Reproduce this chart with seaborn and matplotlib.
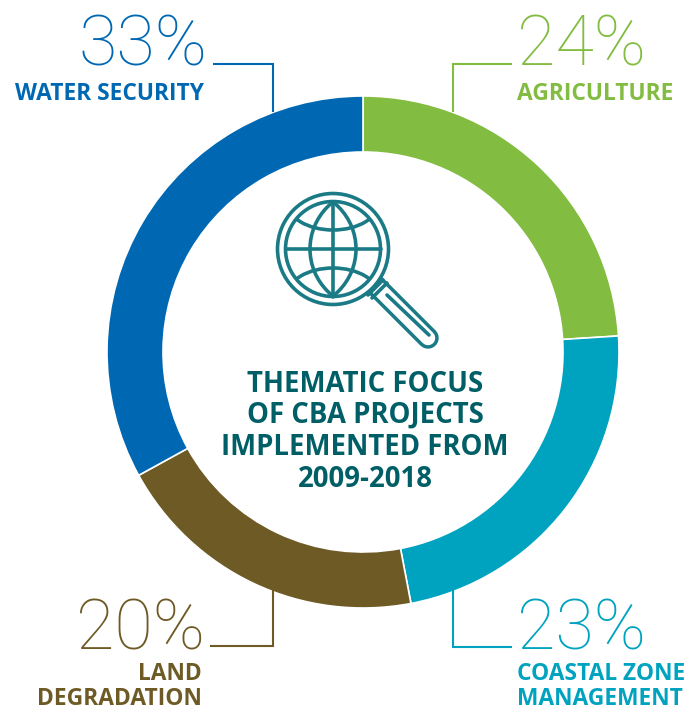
import numpy as np
import matplotlib
matplotlib.use("Agg")
import matplotlib.pyplot as plt
from matplotlib.patches import Circle, Ellipse
import seaborn as sns

# Share of projects per theme, clockwise from twelve o'clock
themes = ["AGRICULTURE", "COASTAL ZONE\nMANAGEMENT", "LAND\nDEGRADATION", "WATER SECURITY"]
shares = [24, 23, 20, 33]
colours = ["#82bc41", "#00a3bf", "#6e5a25", "#0068b3"]
title_lines = ["THEMATIC FOCUS", "OF CBA PROJECTS", "IMPLEMENTED FROM", "2009-2018"]

W, H = 689, 712
sns.set_theme(style="white")
fig = plt.figure(figsize=(W / 100, H / 100), dpi=100, facecolor="white")

# Ring
cx, cy, r_out, r_in = 363, 352, 256, 200
pie_ax = fig.add_axes([(cx - r_out) / W, (H - cy - r_out) / H, 2 * r_out / W, 2 * r_out / H])
pie_ax.pie(shares, colors=sns.color_palette(colours), startangle=90, counterclock=False,
           radius=1, wedgeprops=dict(width=1 - r_in / r_out, edgecolor="white", linewidth=1.2))
pie_ax.set_xlim(-1, 1)
pie_ax.set_ylim(-1, 1)

# Overlay in pixel units for labels, leaders and the icon
ax = fig.add_axes([0, 0, 1, 1], facecolor="none")
ax.set_xlim(0, W)
ax.set_ylim(H, 0)
ax.axis("off")

PCT_FONT = dict(family="Roboto", weight="light", fontsize=50.5)
LBL_FONT = dict(family="Open Sans", weight="bold", fontsize=16.4)

def callout(i, x_pct, x_lbl, ha, y_pct, y_lines, leader):
    ax.text(x_pct, y_pct, f"{shares[i]}%", color=colours[i], ha=ha, va="baseline", **PCT_FONT)
    for line, y in zip(themes[i].split("\n"), y_lines):
        ax.text(x_lbl, y, line, color=colours[i], ha=ha, va="baseline", **LBL_FONT)
    xs, ys = zip(*leader)
    ax.plot(xs, ys, color=colours[i], lw=1.5, solid_joinstyle="miter", solid_capstyle="butt")

callout(3, 207, 204, "right", 66, [100], [(213, 64), (273, 64), (273, 112)])
callout(0, 517, 517, "left", 66, [100], [(512, 64), (453, 64), (453, 112)])
callout(1, 517, 517, "left", 649, [680, 705], [(512, 647), (453, 647), (453, 590)])
callout(2, 205, 202, "right", 649, [680, 705], [(210, 646), (273, 646), (273, 590)])

# Centre heading
for line, y in zip(title_lines, [392, 423, 455, 487]):
    ax.text(365, y, line, color="#005f66", ha="center", va="baseline",
            family="Open Sans", weight="bold", fontsize=19.8)

# Magnifying glass over a globe
ICON = "#1a7a85"
gx, gy = 333, 249
R_LENS, R_GLOBE = 55.5, 47.5
px = 0.72
sw = 3.6 * px
ax.plot([375, 428], [285, 338], color=ICON, lw=21.5 * px, solid_capstyle="round", zorder=3)
ax.plot([375, 428], [285, 338], color="white", lw=14.5 * px, solid_capstyle="round", zorder=3)
ax.plot([387, 429], [295, 335], color=ICON, lw=sw, solid_capstyle="round", zorder=4)
ax.plot([368, 383], [295, 280], color=ICON, lw=sw, zorder=4)
ax.plot([372, 387], [298, 283], color=ICON, lw=sw, zorder=4)
ax.add_patch(Circle((gx, gy), R_LENS, facecolor="white", edgecolor=ICON, linewidth=sw, zorder=4))
globe = Circle((gx, gy), R_GLOBE, fill=False, edgecolor=ICON, linewidth=sw, zorder=6)
ax.add_patch(globe)

# Meridians and parallels are circles cut off at the globe's rim
curves = [(gx - 36.5, gy, 59.5, 59.5), (gx + 36.5, gy, 59.5, 59.5),
          (gx, gy - 47, 46, 28), (gx, gy + 47, 46, 28)]
for x0, y0, a, b in curves:
    e = Ellipse((x0, y0), 2 * a, 2 * b, fill=False, edgecolor=ICON, linewidth=sw, zorder=5)
    ax.add_patch(e)
    e.set_clip_path(globe)
for xs, ys in [([gx, gx], [gy - R_GLOBE, gy + R_GLOBE]), ([gx - R_GLOBE, gx + R_GLOBE], [gy, gy])]:
    ax.plot(xs, ys, color=ICON, lw=sw, zorder=5)

fig.savefig("out.png", dpi=100)
